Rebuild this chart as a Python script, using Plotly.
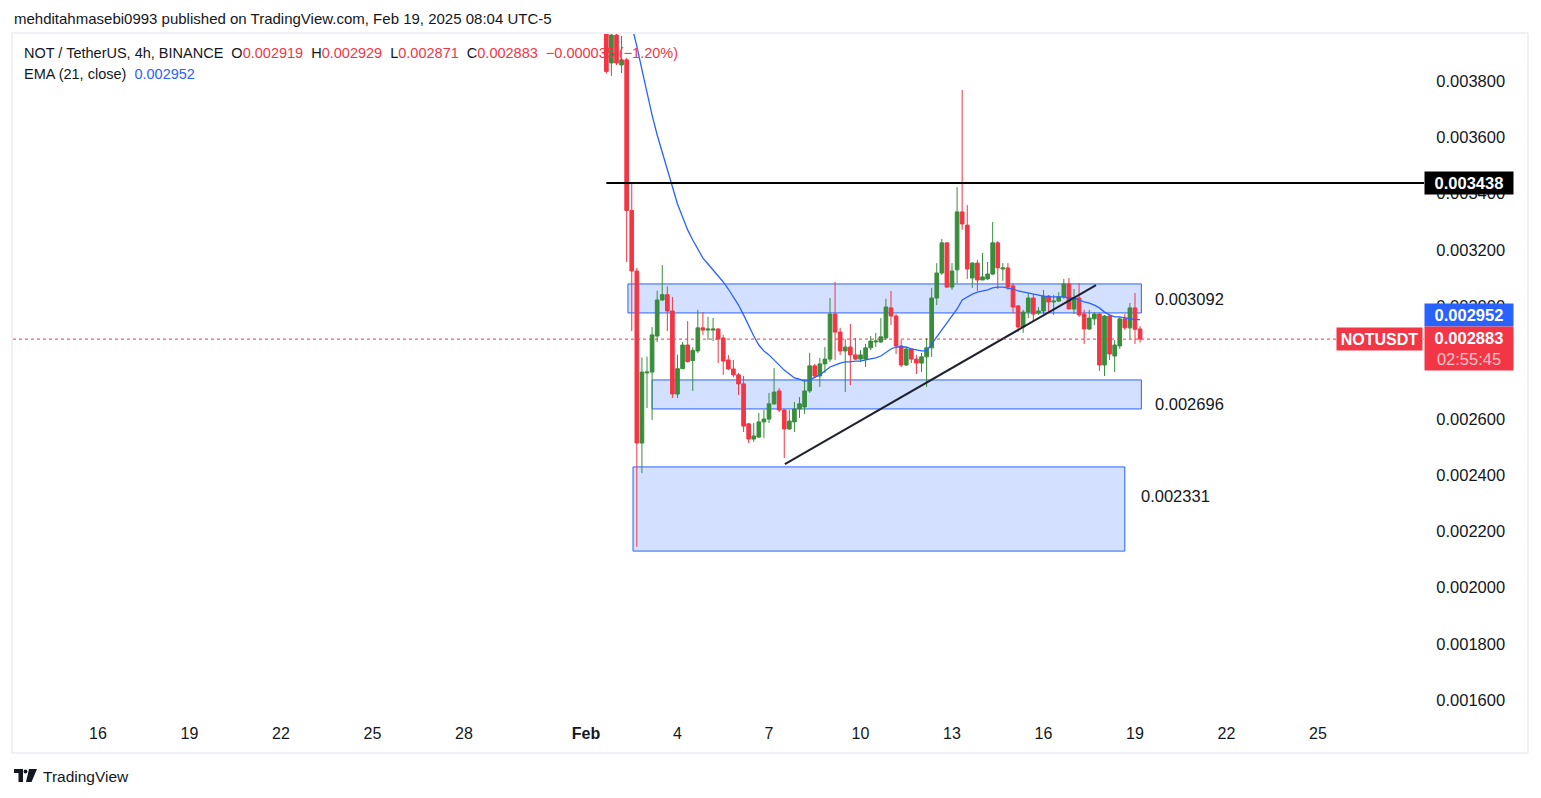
import plotly.graph_objects as go
import pandas as pd

# page body has an 8px margin: draw a figure that, placed at (8, 8), fills the 1541x798 window
PAGE_W, PAGE_H, OFF = 1541, 798, 8
W, H = PAGE_W - OFF, PAGE_H - OFF

# ---------------- data (NOT / TetherUS, 4h) ----------------
bar_open = [0.003999, 0.003864, 0.003963, 0.003857, 0.003875, 0.003340, 0.003125, 0.002514, 0.002763, 0.002766,
            0.002894, 0.003022, 0.003041, 0.002983, 0.002688, 0.002778, 0.002862, 0.002807, 0.002841, 0.002923,
            0.002915, 0.002915, 0.002919, 0.002887, 0.002809, 0.002777, 0.002756, 0.002724, 0.002582, 0.002528,
            0.002535, 0.002589, 0.002599, 0.002653, 0.002699, 0.002631, 0.002564, 0.002589, 0.002635, 0.002642,
            0.002699, 0.002788, 0.002752, 0.002795, 0.002812, 0.002972, 0.002908, 0.002841, 0.002855, 0.002827,
            0.002812, 0.002812, 0.002852, 0.002873, 0.002873, 0.002887, 0.002994, 0.002965, 0.002859, 0.002791,
            0.002848, 0.002812, 0.002798, 0.002820, 0.002852, 0.003029, 0.003118, 0.003225, 0.003068, 0.003129,
            0.003335, 0.003288, 0.003100, 0.003153, 0.003093, 0.003097, 0.003114, 0.003225, 0.003132, 0.003136,
            0.003072, 0.003001, 0.002926, 0.002979, 0.003029, 0.002976, 0.002983, 0.003036, 0.003015, 0.003018,
            0.003033, 0.003079, 0.002990, 0.003029, 0.002972, 0.002919, 0.002955, 0.002972, 0.002791, 0.002965,
            0.002823, 0.002859, 0.002955, 0.002923, 0.002994, 0.002919]
bar_high = [0.004017, 0.003981, 0.003971, 0.003960, 0.003882, 0.003434, 0.003136, 0.002818, 0.002821, 0.002926,
            0.003055, 0.003146, 0.003070, 0.003033, 0.002828, 0.002873, 0.002947, 0.002854, 0.002987, 0.002979,
            0.002962, 0.002958, 0.002922, 0.002898, 0.002827, 0.002809, 0.002763, 0.002752, 0.002585, 0.002585,
            0.002621, 0.002631, 0.002692, 0.002780, 0.002709, 0.002635, 0.002631, 0.002660, 0.002677, 0.002741,
            0.002834, 0.002795, 0.002816, 0.002855, 0.003029, 0.003086, 0.002923, 0.002883, 0.002937, 0.002887,
            0.002844, 0.002866, 0.002894, 0.002905, 0.002958, 0.003026, 0.003054, 0.002972, 0.002880, 0.002855,
            0.002848, 0.002827, 0.002834, 0.002887, 0.003065, 0.003153, 0.003239, 0.003225, 0.003153, 0.003423,
            0.003768, 0.003359, 0.003157, 0.003164, 0.003189, 0.003157, 0.003299, 0.003232, 0.003153, 0.003153,
            0.003082, 0.003004, 0.002987, 0.003047, 0.003043, 0.002997, 0.003058, 0.003040, 0.003040, 0.003050,
            0.003097, 0.003100, 0.003061, 0.003082, 0.002987, 0.002987, 0.002979, 0.002976, 0.002969, 0.002969,
            0.002880, 0.002962, 0.002972, 0.003011, 0.003047, 0.002929]
bar_low = [0.003826, 0.003818, 0.003857, 0.003828, 0.003157, 0.002912, 0.002145, 0.002407, 0.002638, 0.002596,
           0.002873, 0.003018, 0.002912, 0.002674, 0.002674, 0.002778, 0.002800, 0.002699, 0.002834, 0.002898,
           0.002880, 0.002876, 0.002798, 0.002756, 0.002773, 0.002748, 0.002685, 0.002553, 0.002514, 0.002518,
           0.002532, 0.002532, 0.002585, 0.002649, 0.002624, 0.002461, 0.002560, 0.002553, 0.002603, 0.002617,
           0.002692, 0.002745, 0.002713, 0.002763, 0.002802, 0.002809, 0.002827, 0.002695, 0.002720, 0.002809,
           0.002802, 0.002784, 0.002844, 0.002855, 0.002869, 0.002880, 0.002933, 0.002830, 0.002784, 0.002788,
           0.002798, 0.002759, 0.002766, 0.002713, 0.002820, 0.003004, 0.003111, 0.003065, 0.003058, 0.003082,
           0.003271, 0.003097, 0.003065, 0.003054, 0.003093, 0.003093, 0.003111, 0.003061, 0.003090, 0.003058,
           0.002976, 0.002908, 0.002905, 0.002958, 0.002944, 0.002969, 0.002972, 0.002976, 0.002969, 0.003015,
           0.003026, 0.002990, 0.002972, 0.002962, 0.002866, 0.002915, 0.002933, 0.002770, 0.002752, 0.002809,
           0.002766, 0.002848, 0.002915, 0.002883, 0.002866, 0.002871]
bar_close = [0.003834, 0.003963, 0.003864, 0.003875, 0.003340, 0.003125, 0.002514, 0.002766, 0.002766, 0.002898,
             0.003022, 0.003041, 0.002983, 0.002688, 0.002778, 0.002862, 0.002803, 0.002843, 0.002923, 0.002915,
             0.002919, 0.002919, 0.002883, 0.002805, 0.002777, 0.002756, 0.002724, 0.002574, 0.002528, 0.002539,
             0.002589, 0.002599, 0.002653, 0.002695, 0.002631, 0.002564, 0.002592, 0.002635, 0.002653, 0.002699,
             0.002788, 0.002752, 0.002795, 0.002812, 0.002972, 0.002908, 0.002841, 0.002855, 0.002827, 0.002812,
             0.002827, 0.002852, 0.002876, 0.002876, 0.002891, 0.002997, 0.002965, 0.002859, 0.002791, 0.002848,
             0.002812, 0.002798, 0.002820, 0.002852, 0.003029, 0.003118, 0.003225, 0.003068, 0.003125, 0.003335,
             0.003292, 0.003132, 0.003153, 0.003093, 0.003104, 0.003114, 0.003225, 0.003136, 0.003136, 0.003068,
             0.002997, 0.002926, 0.002979, 0.003029, 0.002972, 0.002983, 0.003036, 0.003015, 0.003018, 0.003033,
             0.003079, 0.002990, 0.003029, 0.002969, 0.002919, 0.002958, 0.002972, 0.002791, 0.002965, 0.002830,
             0.002862, 0.002955, 0.002923, 0.002994, 0.002918, 0.002883]
ema21 = [0.004230, 0.004194, 0.004159, 0.004123, 0.004070, 0.003999, 0.003924, 0.003840, 0.003757, 0.003679,
         0.003608, 0.003548, 0.003487, 0.003427, 0.003363, 0.003317, 0.003271, 0.003235, 0.003203, 0.003171,
         0.003150, 0.003129, 0.003107, 0.003086, 0.003061, 0.003033, 0.003004, 0.002969, 0.002930, 0.002894,
         0.002862, 0.002841, 0.002827, 0.002809, 0.002791, 0.002773, 0.002759, 0.002745, 0.002741, 0.002734,
         0.002738, 0.002748, 0.002756, 0.002770, 0.002784, 0.002791, 0.002798, 0.002802, 0.002802, 0.002805,
         0.002805, 0.002809, 0.002812, 0.002816, 0.002823, 0.002837, 0.002848, 0.002855, 0.002855, 0.002855,
         0.002848, 0.002844, 0.002841, 0.002841, 0.002866, 0.002887, 0.002912, 0.002937, 0.002962, 0.002990,
         0.003022, 0.003033, 0.003043, 0.003050, 0.003054, 0.003058, 0.003065, 0.003068, 0.003068, 0.003065,
         0.003061, 0.003054, 0.003050, 0.003047, 0.003043, 0.003040, 0.003036, 0.003033, 0.003033, 0.003033,
         0.003033, 0.003029, 0.003029, 0.003022, 0.003015, 0.003011, 0.003004, 0.002994, 0.002979, 0.002969,
         0.002962, 0.002962, 0.002958, 0.002955, 0.002952, 0.002952]

last_bar_time = "2025-02-19 07:00"
bar_times = pd.date_range(end=last_bar_time, periods=len(bar_close), freq="4h")

resistance_level = 0.003438
resistance_start = "2025-02-01 19:00"

zone_starts = ["2025-02-02 12:00", "2025-02-03 07:00", "2025-02-02 16:00"]
zone_ends = ["2025-02-19 08:00", "2025-02-19 08:00", "2025-02-18 19:00"]
zone_tops = [0.003079, 0.002738, 0.002429]
zone_bottoms = [0.002976, 0.002635, 0.002130]
zone_labels = ["0.003092", "0.002696", "0.002331"]

trend_times = ["2025-02-07 15:30", "2025-02-17 20:20"]
trend_prices = [0.002439, 0.003075]

countdown = "02:55:45"
symbol = "NOTUSDT"

tick_dates = ["2025-01-16 03:00", "2025-01-19 03:00", "2025-01-22 03:00", "2025-01-25 03:00",
              "2025-01-28 03:00", "2025-02-01 03:00", "2025-02-04 03:00", "2025-02-07 03:00",
              "2025-02-10 03:00", "2025-02-13 03:00", "2025-02-16 03:00", "2025-02-19 03:00",
              "2025-02-22 03:00", "2025-02-25 03:00"]
tick_text = ["16", "19", "22", "25", "28", "<b>Feb</b>", "4", "7", "10", "13", "16", "19", "22", "25"]
price_ticks = [0.0016, 0.0018, 0.0020, 0.0022, 0.0024, 0.0026, 0.0028, 0.0030, 0.0032, 0.0034, 0.0036, 0.0038]

x_range = ["2025-01-13 08:07", "2025-02-28 14:24"]
y_range = [0.0015442, 0.0039669]

# ---------------- styling ----------------
GREEN = "#388E3C"
RED = "#F23645"
BLUE = "#2962FF"
TEXT = "#131722"
FONT = "Liberation Sans, Arial, sans-serif"


def px(x):
    return (x - OFF) / W


def py(y):
    return 1 - (y - OFF) / H


fig = go.Figure()

fig.add_trace(go.Candlestick(
    x=bar_times, open=bar_open, high=bar_high, low=bar_low, close=bar_close,
    increasing=dict(line=dict(color=GREEN, width=1), fillcolor=GREEN),
    decreasing=dict(line=dict(color=RED, width=1), fillcolor=RED),
    whiskerwidth=0, showlegend=False, hoverinfo="skip",
))
fig.add_trace(go.Scatter(
    x=bar_times, y=ema21, mode="lines", line=dict(color=BLUE, width=1.3),
    showlegend=False, hoverinfo="skip",
))

shapes = []
# chart frame
shapes.append(dict(type="rect", xref="paper", yref="paper", x0=px(12), x1=px(1528), y0=py(753), y1=py(33),
                   line=dict(color="#E0E3EB", width=1), fillcolor="rgba(0,0,0,0)", layer="below"))
# zones
for t0, t1, top, bot in zip(zone_starts, zone_ends, zone_tops, zone_bottoms):
    shapes.append(dict(type="rect", xref="x", yref="y", x0=t0, x1=t1, y0=bot, y1=top,
                       line=dict(color=BLUE, width=1), fillcolor="rgba(41,98,255,0.2)", layer="below"))
# resistance
shapes.append(dict(type="line", xref="x", yref="y", x0=resistance_start, x1=x_range[1],
                   y0=resistance_level, y1=resistance_level, line=dict(color="#000000", width=2)))
# trend line
shapes.append(dict(type="line", xref="x", yref="y", x0=trend_times[0], x1=trend_times[1],
                   y0=trend_prices[0], y1=trend_prices[1], line=dict(color="#1E222D", width=2)))
# last price dotted line
shapes.append(dict(type="line", xref="paper", yref="y", x0=px(13), x1=px(1424),
                   y0=bar_close[-1], y1=bar_close[-1], line=dict(color=RED, width=1, dash="dot")))
# TradingView logo
logo_paths = [
    f"M {px(14)} {py(769)} L {px(23)} {py(769)} L {px(23)} {py(782)} L {px(18.5)} {py(782)} L {px(18.5)} {py(773)} L {px(14)} {py(773)} Z",
    f"M {px(29)} {py(769)} L {px(37)} {py(769)} L {px(31.5)} {py(782)} L {px(26)} {py(782)} Z",
]
for p in logo_paths:
    shapes.append(dict(type="path", xref="paper", yref="paper", path=p, fillcolor="#131722",
                       line=dict(width=0)))
shapes.append(dict(type="circle", xref="paper", yref="paper", x0=px(23.6), x1=px(27.4), y0=py(773.5), y1=py(769.5),
                   fillcolor="#131722", line=dict(width=0)))

ann = []
NB = "\u00a0"
ann.append(dict(xref="paper", yref="paper", x=px(12), y=py(19), xanchor="left", yanchor="middle",
                text="mehditahmasebi0993 published on TradingView.com, Feb 19, 2025 08:04 UTC-5",
                showarrow=False, font=dict(family=FONT, size=15, color=TEXT)))

chg = bar_close[-1] - bar_close[-2]
pct = chg / bar_close[-2] * 100
sign = "\u2212" if chg < 0 else "+"


def red(s):
    return f"<span style='color:{RED}'>{s}</span>"


line1 = (f"NOT / TetherUS, 4h, BINANCE{NB*2}O{red(f'{bar_open[-1]:.6f}')}{NB*2}H{red(f'{bar_high[-1]:.6f}')}"
         f"{NB*2}L{red(f'{bar_low[-1]:.6f}')}{NB*2}C{red(f'{bar_close[-1]:.6f}')}{NB*2}"
         f"{red(f'{sign}{abs(chg):.6f} ({sign}{abs(pct):.2f}%)')}")
ann.append(dict(xref="paper", yref="paper", x=px(22), y=py(53), xanchor="left", yanchor="middle",
                text=line1, showarrow=False, font=dict(family=FONT, size=14.5, color=TEXT)))
ann.append(dict(xref="paper", yref="paper", x=px(22), y=py(74), xanchor="left", yanchor="middle",
                text=f"EMA (21, close){NB*2}<span style='color:{BLUE}'>{ema21[-1]:.6f}</span>",
                showarrow=False, font=dict(family=FONT, size=14.5, color=TEXT)))

# zone labels
zone_label_pos = [(1153, 299), (1153, 404), (1139, 496)]
for lab, (lx, ly) in zip(zone_labels, zone_label_pos):
    ann.append(dict(xref="paper", yref="paper", x=px(lx), y=py(ly), xanchor="left", yanchor="middle",
                    text=lab, showarrow=False, font=dict(family=FONT, size=16.5, color=TEXT)))

# price-scale labels
ann.append(dict(xref="paper", yref="y", x=px(1424), y=resistance_level, xanchor="left", yanchor="middle",
                text=f"<b>{resistance_level:.6f}</b>", showarrow=False, bgcolor="#000000",
                width=88, height=22, borderpad=0, align="center",
                font=dict(family=FONT, size=16.5, color="#FFFFFF")))
ann.append(dict(xref="paper", yref="paper", x=px(1424), y=py(315), xanchor="left", yanchor="middle",
                text=f"<b>{ema21[-1]:.6f}</b>", showarrow=False, bgcolor=BLUE,
                width=88, height=22, borderpad=0, align="center",
                font=dict(family=FONT, size=16.5, color="#FFFFFF")))
ann.append(dict(xref="paper", yref="paper", x=px(1424), y=py(348.5), xanchor="left", yanchor="middle",
                text=f"<b>{bar_close[-1]:.6f}</b><br><span style='color:#FBC3C8'>{countdown}</span>",
                showarrow=False, bgcolor=RED, width=88, height=43, borderpad=0, align="center",
                font=dict(family=FONT, size=16.5, color="#FFFFFF")))
ann.append(dict(xref="paper", yref="paper", x=px(1336), y=py(339), xanchor="left", yanchor="middle",
                text=f"<b>{symbol}</b>", showarrow=False, bgcolor=RED, width=85, height=22, borderpad=0,
                align="center", font=dict(family=FONT, size=16, color="#FFFFFF")))
# footer
ann.append(dict(xref="paper", yref="paper", x=px(41), y=py(776), xanchor="left", yanchor="middle",
                text="TradingView", showarrow=False, font=dict(family=FONT, size=15.5, color=TEXT)))

fig.update_layout(
    width=W, height=H,
    margin=dict(l=0, r=0, t=0, b=0),
    paper_bgcolor="#FFFFFF", plot_bgcolor="#FFFFFF",
    shapes=shapes, annotations=ann,
    showlegend=False,
    boxgap=0.2, boxgroupgap=0.1,
    xaxis=dict(
        domain=[px(13), px(1424)], range=x_range, type="date",
        tickmode="array", tickvals=tick_dates, ticktext=tick_text,
        showgrid=False, zeroline=False, showline=False,
        ticks="outside", ticklen=3, tickcolor="rgba(0,0,0,0)",
        tickfont=dict(family=FONT, size=16, color=TEXT),
        rangeslider=dict(visible=False), automargin=False, fixedrange=True,
    ),
    yaxis=dict(
        domain=[py(716), py(34)], range=y_range, side="right",
        tickmode="array", tickvals=price_ticks, tickformat=".6f",
        showgrid=False, zeroline=False, showline=False,
        ticks="outside", ticklen=8, tickcolor="rgba(0,0,0,0)",
        tickfont=dict(family=FONT, size=16.5, color=TEXT),
        automargin=False, fixedrange=True,
    ),
)

fig.write_html("out.html")
